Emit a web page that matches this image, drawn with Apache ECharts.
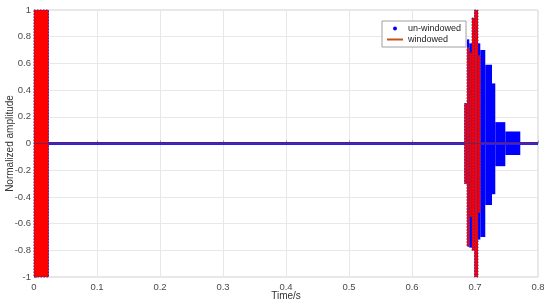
<!DOCTYPE html>
<html>
<head>
<meta charset="utf-8">
<script src="https://cdn.jsdelivr.net/npm/echarts@6/dist/echarts.min.js"></script>
<style>
html, body { margin: 0; padding: 0; background: #fff; }
#main { width: 550px; height: 306px; }
</style>
</head>
<body>
<div id="main"></div>
<script>
// 刻度
var xTicks = [0, 0.1, 0.2, 0.3, 0.4, 0.5, 0.6, 0.7, 0.8];
var yTicks = [-1, -0.8, -0.6, -0.4, -0.2, 0, 0.2, 0.4, 0.6, 0.8, 1];

// 未加窗信号的包络（每段：起始时间、结束时间、上包络、下包络）
var rawStart  = [0,     0.6834, 0.6873, 0.6909, 0.6952, 0.6993, 0.7047, 0.7084, 0.7163, 0.7270, 0.7322, 0.7481];
var rawEnd    = [0.023, 0.6873, 0.6909, 0.6952, 0.6993, 0.7047, 0.7084, 0.7163, 0.7270, 0.7322, 0.7481, 0.7719];
var rawTop    = [1,     0.30,   0.78,   0.75,   0.94,   1,      0.75,   0.70,   0.59,   0.45,   0.16,   0.09];
var rawBottom = [-1,   -0.30,  -0.77,  -0.78,  -0.80,  -1,     -0.72,  -0.70,  -0.46,  -0.38,  -0.17,  -0.086];

// 加窗信号的包络
var winStart  = [0,     0.6834, 0.6873, 0.6909, 0.6952, 0.6993, 0.7047];
var winEnd    = [0.023, 0.6873, 0.6909, 0.6952, 0.6993, 0.7047, 0.7084];
var winTop    = [1,     0.30,   0.72,   0.68,   0.94,   1,      0.66];
var winBottom = [-1,   -0.30,  -0.77,  -0.55,  -0.80,  -1,     -0.52];

// 零线（静默段）
var zeroT = [0, 0.8];
var zeroV = [0, 0];

var font = "'Liberation Sans', Arial, sans-serif";

function segs(s, e, t, b) {
    var out = [];
    for (var i = 0; i < s.length; i++) out.push([s[i], e[i], t[i], b[i]]);
    return out;
}
function pairs(a, b) {
    var out = [];
    for (var i = 0; i < a.length; i++) out.push([a[i], b[i]]);
    return out;
}
function bandRender(fill, stroke) {
    return function (params, api) {
        var p0 = api.coord([api.value(0), api.value(2)]);
        var p1 = api.coord([api.value(1), api.value(3)]);
        return {
            type: 'rect',
            shape: { x: p0[0], y: p0[1], width: p1[0] - p0[0], height: p1[1] - p0[1] },
            style: { fill: fill, stroke: stroke, lineWidth: stroke ? 1 : 0, lineDash: [1.5, 1.5] }
        };
    };
}

var myChart = echarts.init(document.getElementById('main'));

var option = {
    animation: false,
    textStyle: { fontFamily: font },
    grid: { left: 34, right: 12, top: 10, bottom: 29, outerBoundsMode: 'none', containLabel: false,
        show: true, borderColor: '#d0d0d0', borderWidth: 1 },
    legend: {
        orient: 'vertical',
        left: 382, top: 21,
        padding: [3, 5],
        itemGap: 2,
        itemWidth: 16, itemHeight: 4,
        backgroundColor: '#fff',
        borderColor: '#a0a0a0', borderWidth: 1,
        textStyle: { fontSize: 9, color: '#222', fontFamily: font },
        data: [
            { name: 'un-windowed', icon: 'circle', itemStyle: { color: '#0000ff' } },
            { name: 'windowed', icon: 'path://M0,0H20V2.5H0Z', itemStyle: { color: '#c8501a' } }
        ]
    },
    xAxis: {
        type: 'value', min: 0, max: 0.8, interval: 0.1,
        name: 'Time/s', nameLocation: 'middle', nameGap: 14, nameMoveOverlap: false,
        nameTextStyle: { fontSize: 10, color: '#333', fontFamily: font },
        axisLine: { lineStyle: { color: '#c8c8c8' } },
        axisTick: { inside: true, length: 3, lineStyle: { color: '#999' } },
        axisLabel: { fontSize: 9.5, color: '#4a4a4a', margin: 5,
            formatter: function (v) { return String(xTicks[Math.round(v * 10)]); } },
        splitLine: { lineStyle: { color: '#e8e8e8' } }
    },
    yAxis: {
        type: 'value', min: -1, max: 1, interval: 0.2,
        name: 'Normalized amplitude', nameLocation: 'middle', nameGap: 19, nameMoveOverlap: false,
        nameTextStyle: { fontSize: 10, color: '#333', fontFamily: font },
        axisLine: { show: true, lineStyle: { color: '#c8c8c8' } },
        axisTick: { show: true, inside: true, length: 3, lineStyle: { color: '#999' } },
        axisLabel: { fontSize: 9.5, color: '#4a4a4a', margin: 3,
            formatter: function (v) { return String(yTicks[Math.round((v + 1) * 5)]); } },
        splitLine: { lineStyle: { color: '#e8e8e8' } }
    },
    series: [
        {
            name: 'windowed', type: 'line', z: 6,
            symbol: 'none', silent: true,
            lineStyle: { color: '#6a2850', width: 1 },
            itemStyle: { color: '#c0501a' },
            data: pairs(zeroT, zeroV)
        },
        {
            name: 'un-windowed', type: 'custom', z: 2,
            renderItem: bandRender('#0000ff', null),
            encode: { x: [0, 1], y: [2, 3] },
            data: segs(rawStart, rawEnd, rawTop, rawBottom)
        },
        {
            name: 'un-windowed', type: 'line', z: 3,
            symbol: 'none', silent: true,
            lineStyle: { color: '#2a1ff0', width: 3 },
            data: pairs(zeroT, zeroV)
        },
        {
            name: 'windowed', type: 'custom', z: 4,
            renderItem: bandRender('#ff0000', '#5a2080'),
            encode: { x: [0, 1], y: [2, 3] },
            data: segs(winStart, winEnd, winTop, winBottom)
        }
    ]
};

myChart.setOption(option);
</script>
</body>
</html>
